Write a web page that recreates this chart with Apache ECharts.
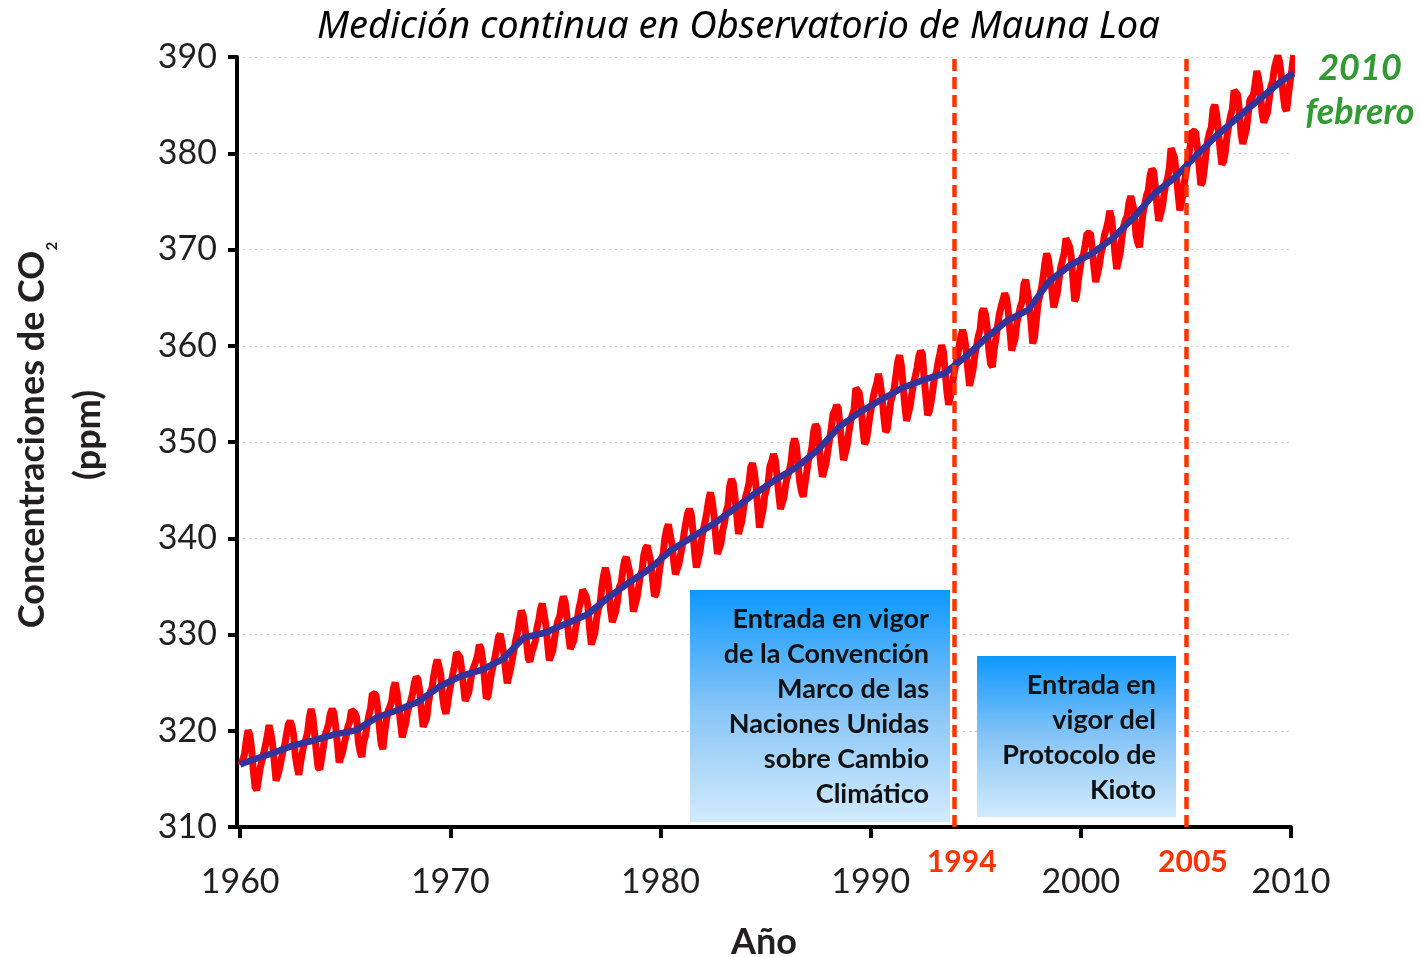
<!DOCTYPE html>
<html>
<head>
<meta charset="utf-8">
<title>Mauna Loa CO2</title>
<script src="https://cdn.jsdelivr.net/npm/echarts@6/dist/echarts.min.js"></script>
<style>
  html, body { margin: 0; padding: 0; background: #fff; }
  #chart { width: 1420px; height: 957px; }
</style>
</head>
<body>
<div id="chart"></div>
<script>
// monthly CO2 (ppm) at Mauna Loa, one row per year, Jan..Dec
const firstYear = 1960;
const co2_1960s = [
  316.43, 316.97, 317.58, 319.02, 320.03, 319.59, 318.18, 315.91, 314.16, 313.83, 315.00, 316.19,
  316.93, 317.70, 318.54, 319.48, 320.58, 319.77, 318.57, 316.79, 314.80, 315.38, 316.10, 317.01,
  317.94, 318.56, 319.68, 320.63, 321.01, 320.55, 319.58, 317.40, 316.26, 315.42, 316.69, 317.69,
  318.74, 319.08, 319.86, 321.39, 322.25, 321.47, 319.74, 317.77, 316.21, 315.99, 317.12, 318.31,
  319.57, 320.07, 320.73, 321.77, 322.25, 321.89, 320.44, 318.70, 316.70, 316.79, 317.79, 318.71,
  319.44, 320.44, 320.89, 322.13, 322.16, 321.87, 321.39, 318.81, 317.81, 317.30, 318.87, 319.42,
  320.62, 321.59, 322.39, 323.87, 324.01, 323.75, 322.39, 320.37, 318.64, 318.10, 319.79, 321.08,
  322.07, 322.50, 323.04, 324.42, 325.00, 324.09, 322.55, 320.92, 319.31, 319.31, 320.72, 321.96,
  322.57, 323.15, 323.89, 325.02, 325.57, 325.36, 324.14, 322.03, 320.41, 320.25, 321.31, 322.84,
  324.00, 324.42, 325.64, 326.66, 327.38, 326.70, 325.89, 323.67, 322.38, 321.78, 322.85, 324.12
];
const co2_1970s = [
  325.03, 325.99, 326.87, 328.13, 328.07, 327.66, 326.35, 324.69, 323.10, 323.16, 323.98, 325.13,
  326.17, 326.68, 327.18, 327.78, 328.92, 328.57, 327.34, 325.46, 323.36, 323.57, 324.80, 326.01,
  326.77, 327.63, 327.75, 329.72, 330.07, 329.09, 328.05, 326.32, 324.93, 325.06, 326.50, 327.55,
  328.54, 329.56, 330.30, 331.50, 332.48, 332.07, 330.87, 329.31, 327.51, 327.18, 328.16, 328.64,
  329.35, 330.71, 331.48, 332.65, 333.20, 332.16, 331.07, 329.12, 327.32, 327.28, 328.30, 329.58,
  330.73, 331.46, 331.90, 333.17, 333.94, 333.45, 331.98, 329.95, 328.50, 328.34, 329.37, 330.58,
  331.59, 332.75, 333.52, 334.64, 334.77, 334.00, 333.06, 330.68, 328.95, 328.75, 330.15, 331.62,
  332.66, 333.13, 334.95, 336.13, 336.93, 336.17, 334.88, 332.56, 331.29, 331.27, 332.41, 333.60,
  334.95, 335.25, 336.66, 337.69, 338.03, 338.01, 336.41, 334.41, 332.37, 332.41, 333.75, 334.90,
  336.14, 336.69, 338.27, 338.96, 339.21, 339.26, 337.54, 335.75, 333.98, 334.19, 335.31, 336.81
];
const co2_1980s = [
  337.90, 338.34, 340.01, 340.93, 341.45, 341.36, 339.45, 337.67, 336.25, 336.14, 337.30, 338.29,
  339.29, 340.55, 341.63, 342.60, 343.04, 342.54, 340.82, 338.48, 336.95, 337.05, 338.58, 339.91,
  340.93, 341.76, 342.78, 343.96, 344.77, 343.88, 342.42, 340.24, 338.38, 338.41, 339.44, 340.78,
  341.57, 342.79, 343.37, 345.40, 346.14, 345.76, 344.32, 342.51, 340.46, 340.53, 341.79, 343.20,
  344.21, 344.92, 345.68, 347.37, 347.78, 346.97, 345.46, 343.33, 341.10, 341.21, 342.88, 344.40,
  345.09, 345.76, 347.49, 348.00, 348.75, 348.19, 346.54, 344.63, 343.03, 342.92, 344.24, 345.62,
  346.43, 346.94, 347.88, 349.57, 350.35, 349.72, 347.78, 345.86, 344.84, 344.32, 345.67, 346.88,
  348.19, 348.55, 349.52, 351.12, 351.84, 351.49, 349.82, 347.63, 346.38, 346.49, 347.75, 349.03,
  350.20, 351.44, 352.89, 353.24, 353.80, 353.51, 351.69, 349.81, 348.11, 348.26, 349.56, 350.98,
  352.08, 352.84, 353.29, 355.59, 355.72, 355.11, 353.79, 351.42, 349.81, 350.11, 351.26, 352.63
];
const co2_1990s = [
  353.64, 354.72, 355.49, 356.09, 357.08, 356.11, 354.70, 352.68, 351.05, 351.36, 352.81, 354.22,
  354.85, 355.66, 357.04, 358.40, 359.00, 357.99, 356.00, 353.78, 352.20, 352.22, 353.70, 354.98,
  356.09, 356.85, 357.73, 358.91, 359.45, 359.19, 356.72, 354.79, 352.79, 353.20, 354.15, 355.39,
  356.77, 357.17, 358.26, 359.16, 360.07, 359.41, 357.44, 355.30, 353.87, 354.07, 355.58, 357.00,
  358.00, 358.81, 359.97, 361.00, 361.64, 360.95, 359.55, 357.49, 355.84, 356.00, 357.59, 359.05,
  359.98, 361.03, 361.66, 363.48, 363.82, 363.30, 361.94, 359.50, 358.11, 357.80, 359.61, 360.74,
  362.09, 363.29, 364.06, 364.76, 365.45, 365.01, 363.70, 361.54, 359.51, 359.65, 360.80, 362.38,
  363.23, 364.06, 364.61, 366.40, 366.84, 365.68, 364.52, 362.57, 360.24, 360.83, 362.49, 364.34,
  365.16, 365.98, 367.13, 368.61, 369.59, 368.96, 367.57, 365.72, 363.99, 364.02, 365.44, 366.84,
  368.15, 368.87, 369.59, 371.14, 371.00, 370.35, 369.27, 366.94, 364.63, 365.12, 366.67, 368.01
];
const co2_2000s = [
  369.14, 369.46, 370.52, 371.66, 371.82, 371.70, 370.12, 368.12, 366.62, 366.73, 368.29, 369.53,
  370.28, 371.50, 372.12, 372.87, 374.02, 373.30, 371.62, 369.55, 367.96, 368.09, 369.68, 371.24,
  372.44, 373.08, 373.52, 374.85, 375.55, 375.40, 374.02, 371.48, 370.70, 370.25, 372.08, 373.78,
  374.68, 375.63, 376.11, 377.65, 378.35, 378.13, 376.62, 374.50, 372.99, 373.00, 374.35, 375.70,
  376.79, 377.37, 378.41, 380.52, 380.63, 379.57, 377.79, 375.86, 374.06, 374.24, 375.86, 377.48,
  378.46, 379.73, 380.77, 382.29, 382.45, 382.21, 380.74, 378.74, 376.70, 377.00, 378.35, 380.11,
  381.38, 382.19, 382.67, 384.61, 385.03, 384.05, 382.46, 380.41, 378.85, 379.13, 380.15, 381.82,
  382.89, 383.90, 384.58, 386.50, 386.56, 386.10, 384.50, 381.99, 380.96, 381.12, 382.45, 383.95,
  385.52, 385.82, 386.03, 387.21, 388.54, 387.76, 386.36, 384.09, 383.18, 382.99, 384.19, 385.56,
  386.94, 387.48, 388.82, 389.55, 390.14, 389.48, 388.03, 386.11, 384.74, 384.43, 386.02, 387.42
];
const co2_2010 = [388.71, 390.20]; // enero, febrero

// tendencia (media anual), 1960..2009, más inicio y fin de la serie
const trendAnnual = [
  316.91, 317.64, 318.45, 318.99, 319.62, 320.04, 321.38, 322.16, 323.04, 324.62,
  325.68, 326.32, 327.45, 329.68, 330.18, 331.11, 332.04, 333.83, 335.40, 336.84,
  338.75, 340.11, 341.45, 343.05, 344.65, 346.12, 347.42, 349.19, 351.57, 353.12,
  354.39, 355.61, 356.45, 357.10, 358.83, 360.82, 362.61, 363.73, 366.70, 368.38,
  369.55, 371.14, 373.28, 375.80, 377.52, 379.80, 381.90, 383.79, 385.60, 387.43
];
const trendStart = 316.5;
const trendEnd = 388.3;

const xTicks = [1960, 1970, 1980, 1990, 2000, 2010];
const markerYears = [1994, 2005];

// build series
const monthly = [].concat(co2_1960s, co2_1970s, co2_1980s, co2_1990s, co2_2000s, co2_2010);
const redData = monthly.map((v, i) => [firstYear + (i + 0.5) / 12, v]);
const lastPoint = redData[redData.length - 1];
const blueData = [[firstYear, trendStart]]
  .concat(trendAnnual.map((v, i) => [firstYear + i + 0.5, v]))
  .concat([[lastPoint[0], trendEnd]]);

const font = 'Lato, "Noto Sans", sans-serif';
const boxFill = () => new echarts.graphic.LinearGradient(0, 0, 0, 1, [
  { offset: 0, color: '#0d98ff' },
  { offset: 0.5, color: '#86c4f7' },
  { offset: 1, color: '#d2ebfc' }
]);
const chart = echarts.init(document.getElementById('chart'));

chart.setOption({
  animation: false,
  title: {
    text: 'Medición continua en Observatorio de Mauna Loa',
    left: 312,
    top: 3,
    textStyle: { fontFamily: '"Noto Sans", sans-serif', fontStyle: 'italic', fontWeight: 'normal', fontSize: 38, color: '#000' }
  },
  grid: { left: 237, right: 129, top: 57, bottom: 130, containLabel: false, outerBoundsMode: 'none' },
  xAxis: {
    type: 'value',
    min: 1959.85,
    max: 2010,
    name: 'Año',
    nameLocation: 'middle',
    nameGap: 97,
    nameTextStyle: { fontFamily: font, fontWeight: 'bold', fontSize: 36, color: '#231f20' },
    axisLine: { lineStyle: { color: '#000', width: 4 } },
    axisTick: { customValues: xTicks, length: 11, lineStyle: { color: '#000', width: 4 } },
    axisLabel: {
      customValues: xTicks,
      formatter: v => String(v),
      margin: 38,
      fontFamily: font,
      fontSize: 34,
      color: '#231f20'
    },
    splitLine: { show: false }
  },
  yAxis: {
    type: 'value',
    min: 310,
    max: 390,
    interval: 10,
    axisLine: { show: true, lineStyle: { color: '#000', width: 4 } },
    axisTick: { show: true, length: 9, lineStyle: { color: '#000', width: 4 } },
    axisLabel: { margin: 20, fontFamily: font, fontSize: 34, color: '#231f20' },
    splitLine: { show: true, lineStyle: { color: '#d4d4d4', width: 1, type: [2, 4] } }
  },
  series: [
    {
      name: 'mensual',
      type: 'line',
      data: redData,
      showSymbol: false,
      symbol: 'none',
      clip: false,
      lineStyle: { color: '#ff0000', width: 7 },
      z: 2,
      markLine: {
        silent: true,
        symbol: 'none',
        lineStyle: { color: '#ff3300', width: 4.5, type: [12, 6] },
        label: {
          show: true,
          position: 'start',
          distance: 20,
          offset: [7, 0],
          formatter: p => String(p.value),
          fontFamily: font,
          fontWeight: 'bold',
          fontSize: 30,
          color: '#ff3300'
        },
        data: markerYears.map(y => ({ xAxis: y }))
      }
    },
    {
      name: 'tendencia',
      type: 'line',
      data: blueData,
      showSymbol: false,
      symbol: 'none',
      clip: false,
      lineStyle: { color: '#333399', width: 6.5 },
      z: 3
    }
  ],
  graphic: [
    {
      type: 'text',
      x: 60,
      y: 435,
      rotation: Math.PI / 2,
      style: {
        text: 'Concentraciones de CO{sub|2}\n(ppm)',
        fontFamily: font,
        fontWeight: 'bold',
        fontSize: 36,
        lineHeight: 56,
        fill: '#231f20',
        align: 'center',
        verticalAlign: 'middle',
        rich: {
          sub: { fontFamily: font, fontWeight: 'bold', fontSize: 15, verticalAlign: 'bottom', fill: '#231f20' }
        }
      }
    },
    {
      type: 'text',
      x: 1360,
      y: 90,
      style: {
        text: '2010\nfebrero',
        fontFamily: font,
        fontStyle: 'italic',
        fontWeight: 'bold',
        fontSize: 36,
        lineHeight: 44,
        fill: '#339933',
        align: 'center',
        verticalAlign: 'middle'
      }
    },
    {
      type: 'rect',
      shape: { x: 690, y: 590, width: 260, height: 232 },
      style: { fill: boxFill() },
      z: 10
    },
    {
      type: 'text',
      x: 929,
      y: 602,
      z: 11,
      style: {
        text: 'Entrada en vigor\nde la Convención\nMarco de las\nNaciones Unidas\nsobre Cambio\nClimático',
        fontFamily: font,
        fontWeight: 'bold',
        fontSize: 27,
        lineHeight: 35,
        fill: '#111',
        align: 'right',
        verticalAlign: 'top'
      }
    },
    {
      type: 'rect',
      shape: { x: 977, y: 656, width: 199, height: 161 },
      style: { fill: boxFill() },
      z: 10
    },
    {
      type: 'text',
      x: 1156,
      y: 668,
      z: 11,
      style: {
        text: 'Entrada en\nvigor del\nProtocolo de\nKioto',
        fontFamily: font,
        fontWeight: 'bold',
        fontSize: 27,
        lineHeight: 35,
        fill: '#111',
        align: 'right',
        verticalAlign: 'top'
      }
    }
  ]
});
</script>
</body>
</html>
